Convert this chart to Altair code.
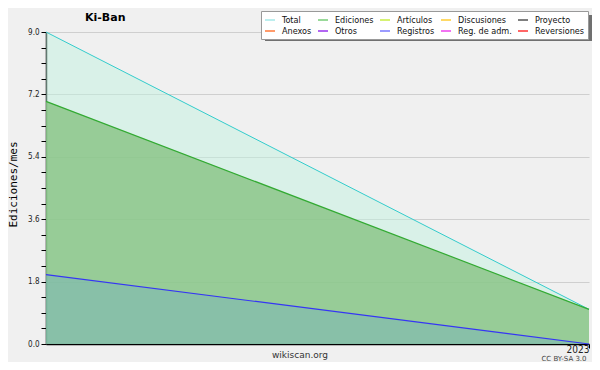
import altair as alt
import pandas as pd

# ---- data ----
months = ["2022-12", "2023-01"]
total = [9.0, 1.0]
ediciones = [7.0, 1.0]
articulos = [2.0, 0.0]

# legend entries, listed column by column (two rows of five)
legend_names = ["Total", "Anexos", "Ediciones", "Otros", "Artículos",
                "Registros", "Discusiones", "Reg. de adm.", "Proyecto", "Reversiones"]
legend_colors = ["#a6e8e8", "#ff7a3a", "#77cc77", "#9933ee", "#c8ee44",
                 "#7a7aff", "#ffcc33", "#ee44ee", "#555555", "#ff3333"]

y_ticks = [0.0, 0.45, 0.9, 1.35, 1.8, 2.25, 2.7, 3.15, 3.6, 4.05, 4.5,
           4.95, 5.4, 5.85, 6.3, 6.75, 7.2, 7.65, 8.1, 8.55, 9.0]
x_ticks = ["2023-01"]

df = pd.DataFrame({"mes": months, "total": total,
                   "ediciones": ediciones, "articulos": articulos})

MAJOR = "abs(datum.value/1.8 - round(datum.value/1.8)) < 0.001"

x_enc = alt.X("mes:O", scale=alt.Scale(type="point", padding=0),
              axis=alt.Axis(values=x_ticks, title=None, grid=False,
                            labelExpr="substring(datum.label, 0, 4)",
                            labelAngle=0, labelFlush=True, labelPadding=-4,
                            labelFont="DejaVu Sans Condensed", labelFontSize=10,
                            labelColor="#222222", tickSize=4, domainWidth=1.5))


def y_enc(field):
    return alt.Y(field + ":Q",
                 scale=alt.Scale(domain=[0, 9], nice=False, zero=True),
                 axis=alt.Axis(values=y_ticks, title="Ediciones/mes",
                               labelExpr=MAJOR + " ? format(datum.value, '.1f') : ''",
                               gridOpacity={"condition": {"test": MAJOR, "value": 1}, "value": 0},
                               gridColor="#cfcfcf", gridWidth=1,
                               labelFont="DejaVu Sans Condensed", labelFontSize=8,
                               labelColor="#222222", labelPadding=2, tickSize=5,
                               domainWidth=1.5,
                               titleFont="DejaVu Sans Mono", titleFontSize=11,
                               titleFontWeight="normal", titleColor="#000000",
                               titleX=-33, titleY=152, titleAngle=270,
                               titleAlign="center", titleBaseline="middle"))


base = alt.Chart(df)

area_total = base.mark_area(color="#c2f2e0", opacity=0.5).encode(x=x_enc, y=y_enc("total"))
line_total = base.mark_line(color="#33cccc", strokeWidth=1).encode(x=x_enc, y=y_enc("total"))
area_edic = base.mark_area(color="#86c382", opacity=0.8).encode(x=x_enc, y=y_enc("ediciones"))
line_edic = base.mark_line(color="#33aa33", strokeWidth=1.2).encode(x=x_enc, y=y_enc("ediciones"))
area_art = base.mark_area(color="#67a4d2", opacity=0.3).encode(x=x_enc, y=y_enc("articulos"))
line_art = base.mark_line(color="#3535f5", strokeWidth=1.2).encode(x=x_enc, y=y_enc("articulos"))

# legend shadow (decorative)
shadow = alt.Chart(pd.DataFrame({"s": [1]})).mark_rect(color="#707070").encode(
    x=alt.value(219), x2=alt.value(546), y=alt.value(-17), y2=alt.value(9))

legend_layer = alt.Chart(pd.DataFrame({"serie": legend_names})).transform_filter(
    "false").mark_line().encode(
    color=alt.Color("serie:N",
                    scale=alt.Scale(domain=legend_names, range=legend_colors),
                    legend=alt.Legend(orient="none", legendX=215, legendY=-21,
                                      columns=5, title=None, symbolType="stroke",
                                      symbolSize=100, symbolStrokeWidth=1.5,
                                      labelFont="DejaVu Sans Condensed",
                                      labelFontSize=9, labelColor="#111111",
                                      labelOffset=6, columnPadding=3,
                                      rowPadding=0, padding=3,
                                      fillColor="#ffffff", strokeColor="#999999",
                                      gridAlign="each")))

title = alt.Chart(pd.DataFrame({"t": ["Ki-Ban"]})).mark_text(
    font="DejaVu Sans", fontSize=11, fontWeight="bold", color="#000000",
    align="left", baseline="alphabetic").encode(
    text="t:N", x=alt.value(39), y=alt.value(-11.5))

foot1 = alt.Chart(pd.DataFrame({"t": ["wikiscan.org"]})).mark_text(
    font="DejaVu Sans", fontSize=9, color="#333333", align="center",
    baseline="middle").encode(text="t:N", x=alt.value(254), y=alt.value(323))
foot2 = alt.Chart(pd.DataFrame({"t": ["CC BY-SA 3.0"]})).mark_text(
    font="DejaVu Sans", fontSize=7, color="#444444", align="center",
    baseline="middle").encode(text="t:N", x=alt.value(518), y=alt.value(326.5))

chart = alt.layer(
    area_total, area_edic, area_art, line_total, line_edic, line_art,
    shadow, legend_layer, title, foot1, foot2
).properties(
    width=543, height=312,
    autosize=alt.AutoSizeParams(type="none"),
    padding={"left": 38, "top": 24, "right": 3, "bottom": 18},
).configure(background="#f0f0f0").configure_view(
    fill="#ececef", stroke="transparent"
).configure_axis(domainColor="#000000", tickColor="#000000")

chart.save("out.html", embed_options={"renderer": "svg", "actions": False})
